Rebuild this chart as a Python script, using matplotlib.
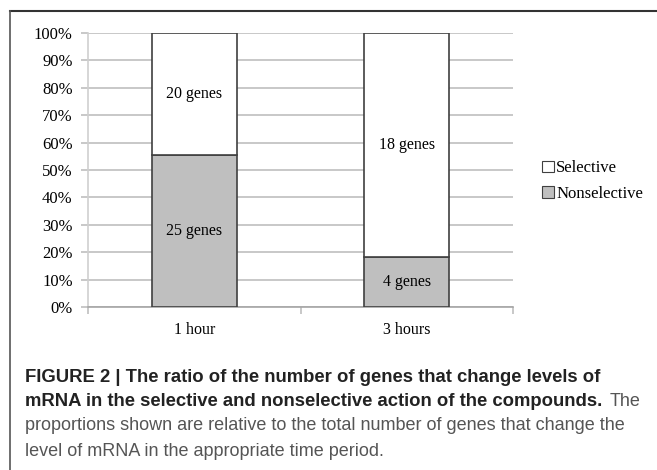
#! /usr/bin/env python3
# coding: utf-8

import matplotlib
matplotlib.use("Agg")
import matplotlib.pyplot as plt
from matplotlib.patches import Patch
from matplotlib.lines import Line2D

####
# les donnees
####

periodes = ["1 hour", "3 hours"]
genes_nonselectifs = [25, 4]
genes_selectifs = [20, 18]
pourcentages = ["0%", "10%", "20%", "30%", "40%", "50%", "60%", "70%", "80%", "90%", "100%"]

####
# le graphique
####

W, H = 657, 470
fig = plt.figure(figsize=(W / 100, H / 100), dpi=100)

def px(x, y):
    """pixels (origine en haut a gauche) vers coordonnees figure"""
    return x / W, 1 - y / H

serif = ["Liberation Serif", "DejaVu Serif"]
sans = ["Liberation Sans", "DejaVu Sans"]

ax = fig.add_axes([88 / W, (H - 307) / H, 425 / W, 274 / H])

totaux = [a + b for a, b in zip(genes_nonselectifs, genes_selectifs)]
part_non = [n / t for n, t in zip(genes_nonselectifs, totaux)]
part_sel = [s / t for s, t in zip(genes_selectifs, totaux)]
pos = list(range(len(periodes)))

ax.bar(pos, part_non, width=0.4, color="#bfbfbf", edgecolor="#404040", linewidth=1.2, zorder=3)
ax.bar(pos, part_sel, width=0.4, bottom=part_non, color="white", edgecolor="#404040", linewidth=1.2, zorder=3)

for i in pos:
    ax.text(i, part_non[i] / 2, f"{genes_nonselectifs[i]} genes", ha="center", va="center",
            fontsize=11.5, family=serif, zorder=4)
    ax.text(i, part_non[i] + part_sel[i] / 2, f"{genes_selectifs[i]} genes", ha="center", va="center",
            fontsize=11.5, family=serif, zorder=4)

ax.set_xlim(-0.5, len(periodes) - 0.5)
ax.set_ylim(0, 1)
ax.set_yticks([i / 10 for i in range(11)])
ax.set_yticklabels(pourcentages, fontsize=12, family=serif)
ax.yaxis.grid(True, color="#bfbfbf", linewidth=1.2, zorder=0)
ax.tick_params(axis="y", length=5, color="#bfbfbf", width=1.2, pad=6)

ax.set_xticks(pos)
ax.set_xticklabels(periodes, fontsize=11.5, family=serif)
ax.set_xticks([-0.5, 0.5, 1.5], minor=True)
ax.tick_params(axis="x", which="major", length=0, pad=11)
ax.tick_params(axis="x", which="minor", length=5, color="#bfbfbf", width=1.2)

for cote in ["top", "right"]:
    ax.spines[cote].set_visible(False)
ax.spines["left"].set_color("#d0d0d0")
ax.spines["bottom"].set_color("#a6a6a6")
ax.spines["left"].set_linewidth(1.2)
ax.spines["bottom"].set_linewidth(1.2)

poignees = [Patch(facecolor="white", edgecolor="#404040", linewidth=0.8),
            Patch(facecolor="#bfbfbf", edgecolor="#404040", linewidth=0.8)]
fig.legend(poignees, ["Selective", "Nonselective"], loc="center left",
           bbox_to_anchor=px(527, 181), frameon=False, prop={"family": serif, "size": 12},
           handlelength=0.7, handleheight=0.7, handletextpad=0.15, labelspacing=0.55)

# le cadre autour de la figure
fig.add_artist(Line2D([px(10, 0)[0], 1], [px(0, 11)[1]] * 2, color="#333333", linewidth=1.5))
fig.add_artist(Line2D([px(10, 0)[0]] * 2, [px(0, 11)[1], 0], color="#555555", linewidth=1.2))

# la legende de la figure
lignes = [
    ("FIGURE 2 | The ratio of the number of genes that change levels of", 377, "bold", "#222222", 13.3),
    ("mRNA in the selective and nonselective action of the compounds.", 401, "bold", "#222222", 13.3),
    ("proportions shown are relative to the total number of genes that change the", 426, "normal", "#555555", 13),
    ("level of mRNA in the appropriate time period.", 451, "normal", "#555555", 13),
]
for texte, y, poids, couleur, taille in lignes:
    fig.text(*px(25, y), texte, fontsize=taille, family=sans, weight=poids, color=couleur, va="center")

# "The" en fin de deuxieme ligne
fig.text(*px(640, 401), "The", fontsize=13, family=sans, color="#555555", va="center", ha="right")

fig.savefig("out.png", dpi=100)
